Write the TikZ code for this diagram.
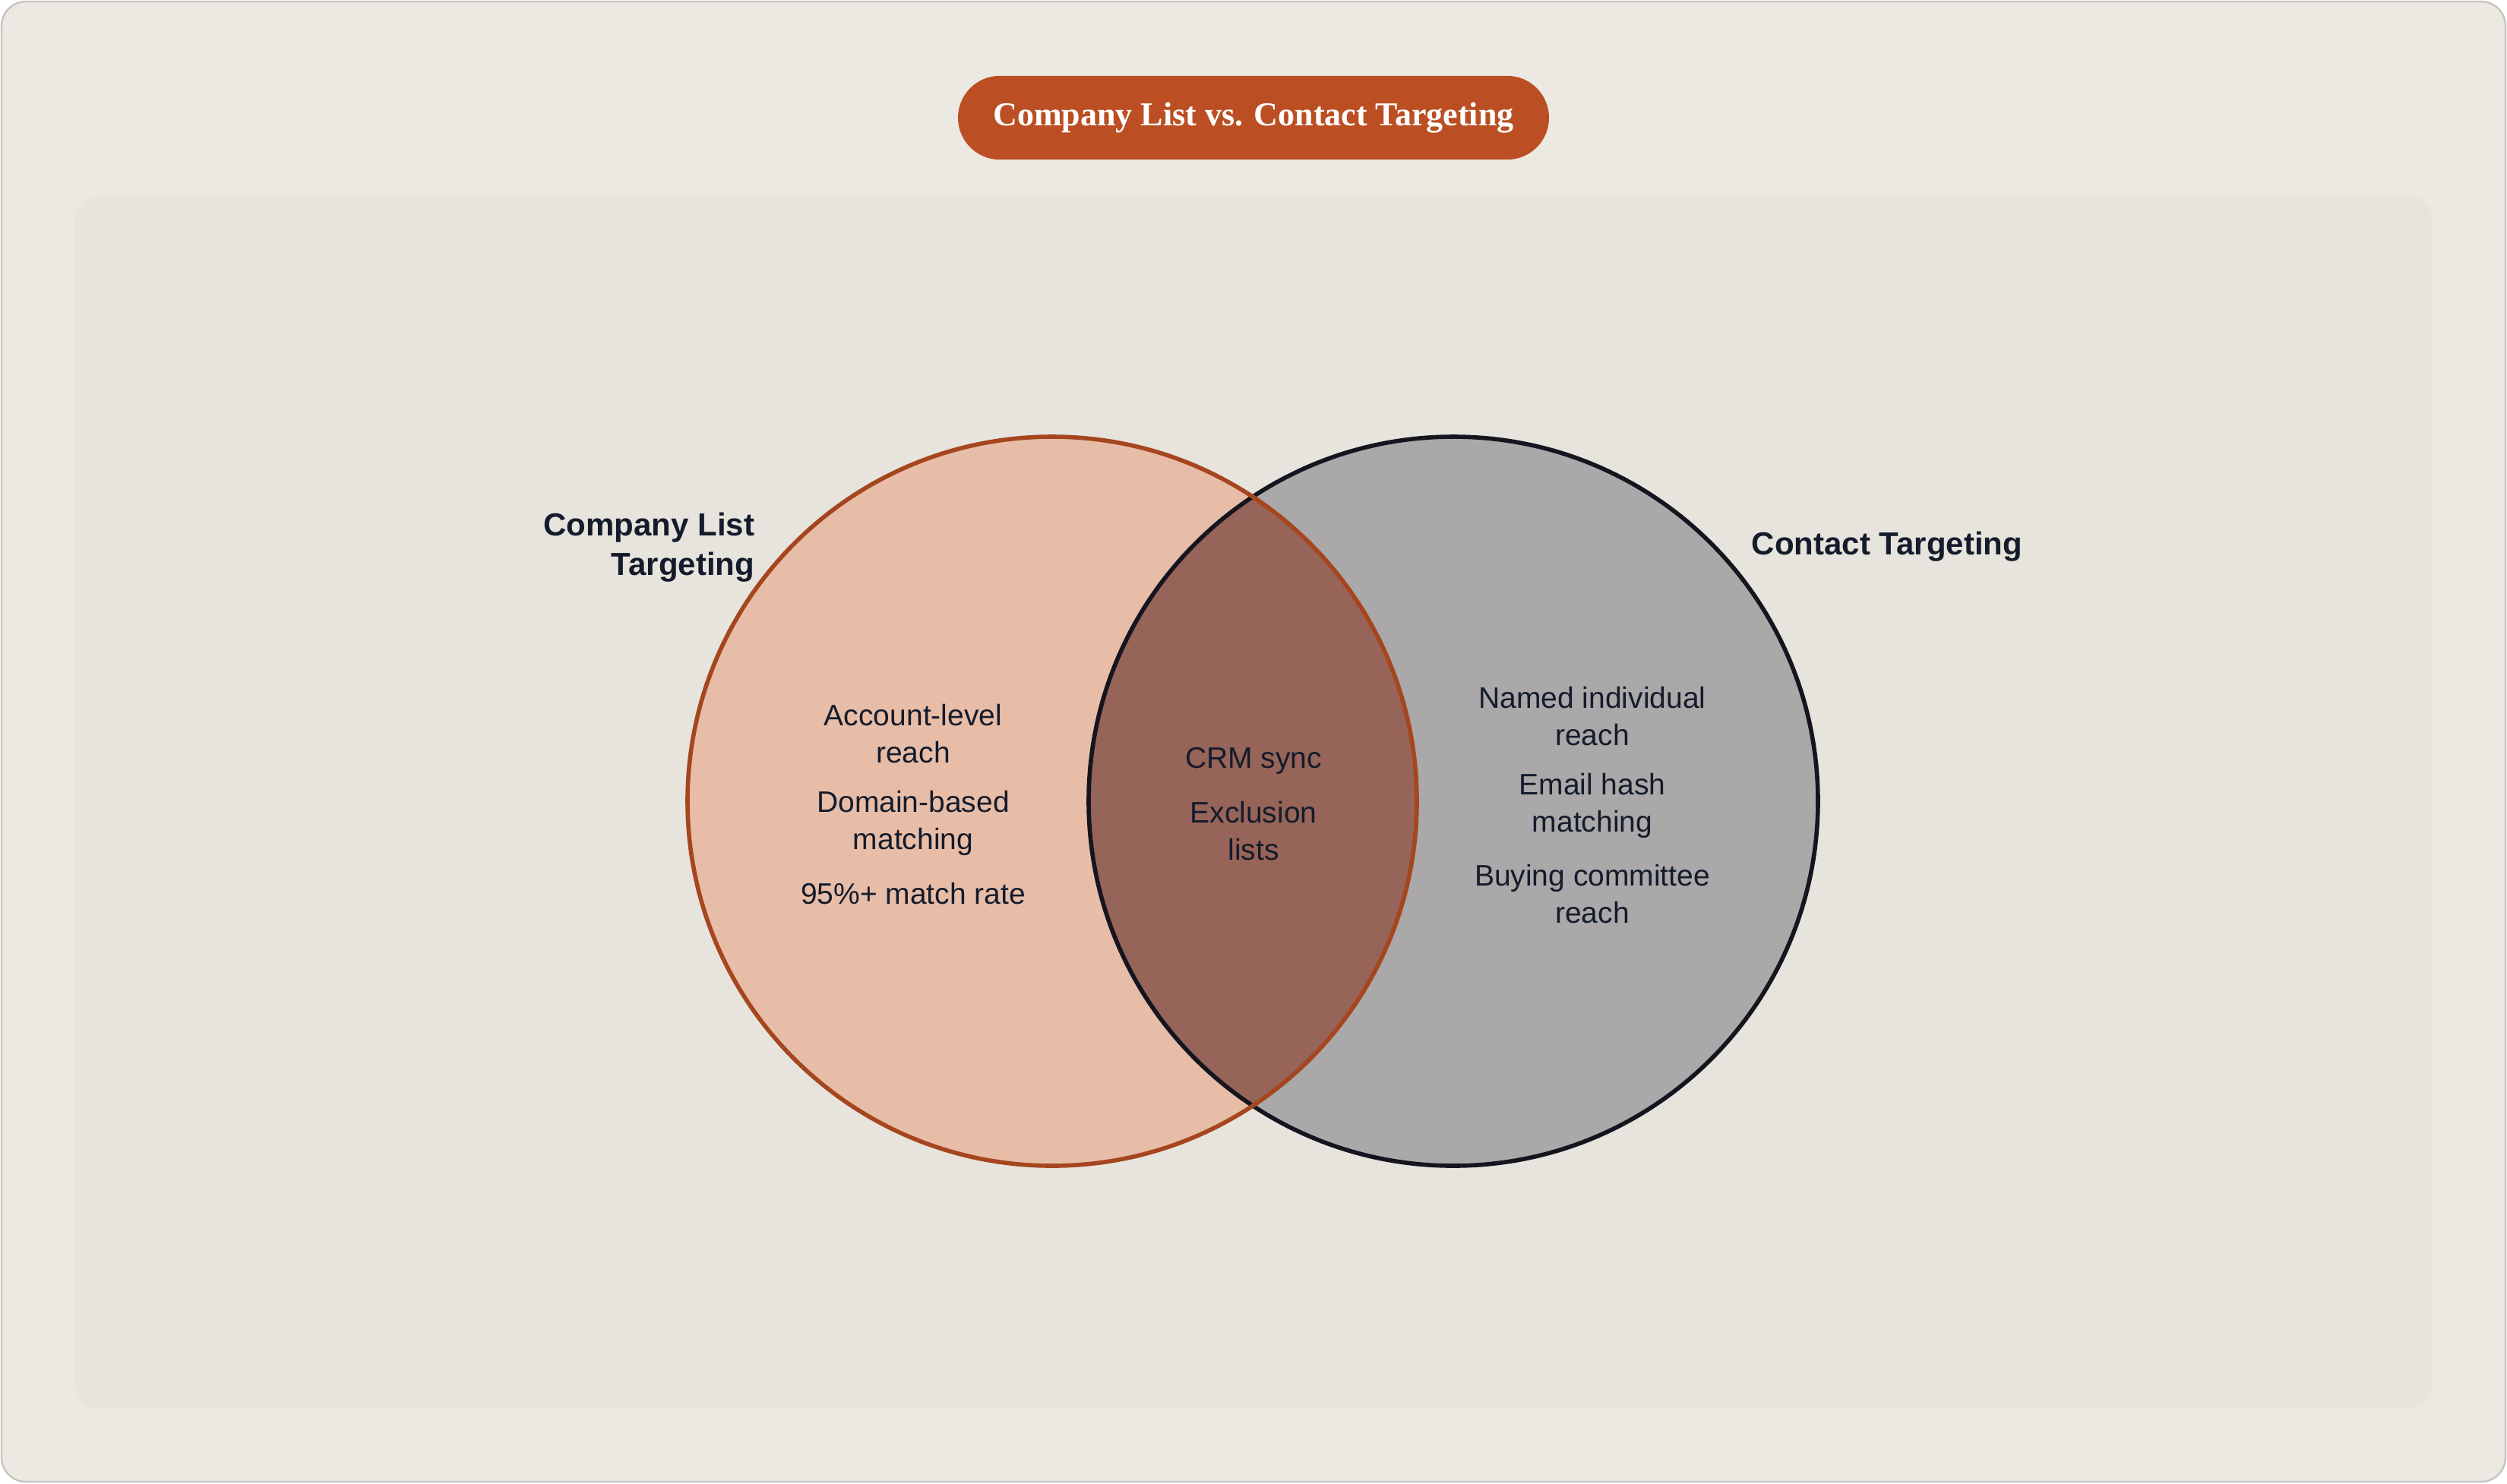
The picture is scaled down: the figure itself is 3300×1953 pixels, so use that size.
\documentclass[tikz,border=0pt]{standalone}
\usepackage{fontspec}
\setmainfont{Liberation Sans}
\newfontfamily\titlefont{Liberation Serif}
\usepackage{xcolor}
\definecolor{framefill}{HTML}{ECE9E2}
\definecolor{framedraw}{HTML}{C6C4C0}
\definecolor{panelfill}{HTML}{E7E4DD}
\definecolor{rust}{HTML}{BB4F23}
\definecolor{companyfill}{HTML}{E8BDA8}
\definecolor{companydraw}{HTML}{A5461F}
\definecolor{contactfill}{HTML}{AAA8A8}
\definecolor{contactdraw}{HTML}{15151F}
\definecolor{overlapfill}{HTML}{966458}
\definecolor{ink}{HTML}{141B2B}

\begin{document}
\begin{tikzpicture}[x=0.25pt, y=-0.25pt,
    item/.style={font=\fontsize{9.75}{12.1}\selectfont, text=ink,
        align=center, inner sep=0pt},
    setlabel/.style={font=\fontsize{10.5}{13.1}\selectfont\bfseries,
        text=ink, inner sep=0pt},
    setring/.style={line width=1.4pt}]
    \useasboundingbox (0,0) rectangle (3300,1953);

    % frame and panel
    \draw[framedraw, fill=framefill, line width=0.6pt, rounded corners=8pt]
        (2,2) rectangle (3298,1951);
    \fill[panelfill, rounded corners=7pt] (99,259) rectangle (3201,1854);

    \node (title) [fill=rust, rounded corners=13.8pt, minimum width=194.5pt,
        minimum height=27.6pt, text=white,
        font=\titlefont\bfseries\fontsize{11}{13}\selectfont]
        at (1650,155) {Company List vs. Contact Targeting};

    % the two sets
    \coordinate (cl) at (1385,1055);
    \coordinate (cr) at (1913,1055);
    \fill[companyfill] (cl) circle[radius=120pt];
    \fill[contactfill] (cr) circle[radius=120pt];
    \begin{scope}
        \clip (cl) circle[radius=120pt];
        \fill[overlapfill] (cr) circle[radius=120pt];
    \end{scope}
    \draw[setring, contactdraw] (cr) circle[radius=120pt];
    \draw[setring, companydraw] (cl) circle[radius=120pt];

    \node[setlabel, anchor=east, align=right] (company) at (994,720.5)
        {Company List\\Targeting};
    \node[setlabel, anchor=west] (contact) at (2305,720) {Contact Targeting};

    % left only
    \node[item] (account) at (1202,966) {Account-level\\reach};
    \node[item] (domain) at (1202,1084) {Domain-based\\matching};
    \node[item] (rate) at (1202,1177) {95\%+ match rate};
    % overlap
    \node[item] (crm) at (1650,1002) {CRM sync};
    \node[item] (exclusion) at (1650,1094) {Exclusion\\lists};
    % right only
    \node[item] (named) at (2096,943) {Named individual\\reach};
    \node[item] (email) at (2096,1061) {Email hash\\matching};
    \node[item] (buying) at (2096,1177) {Buying committee\\reach};

\end{tikzpicture}
\end{document}
